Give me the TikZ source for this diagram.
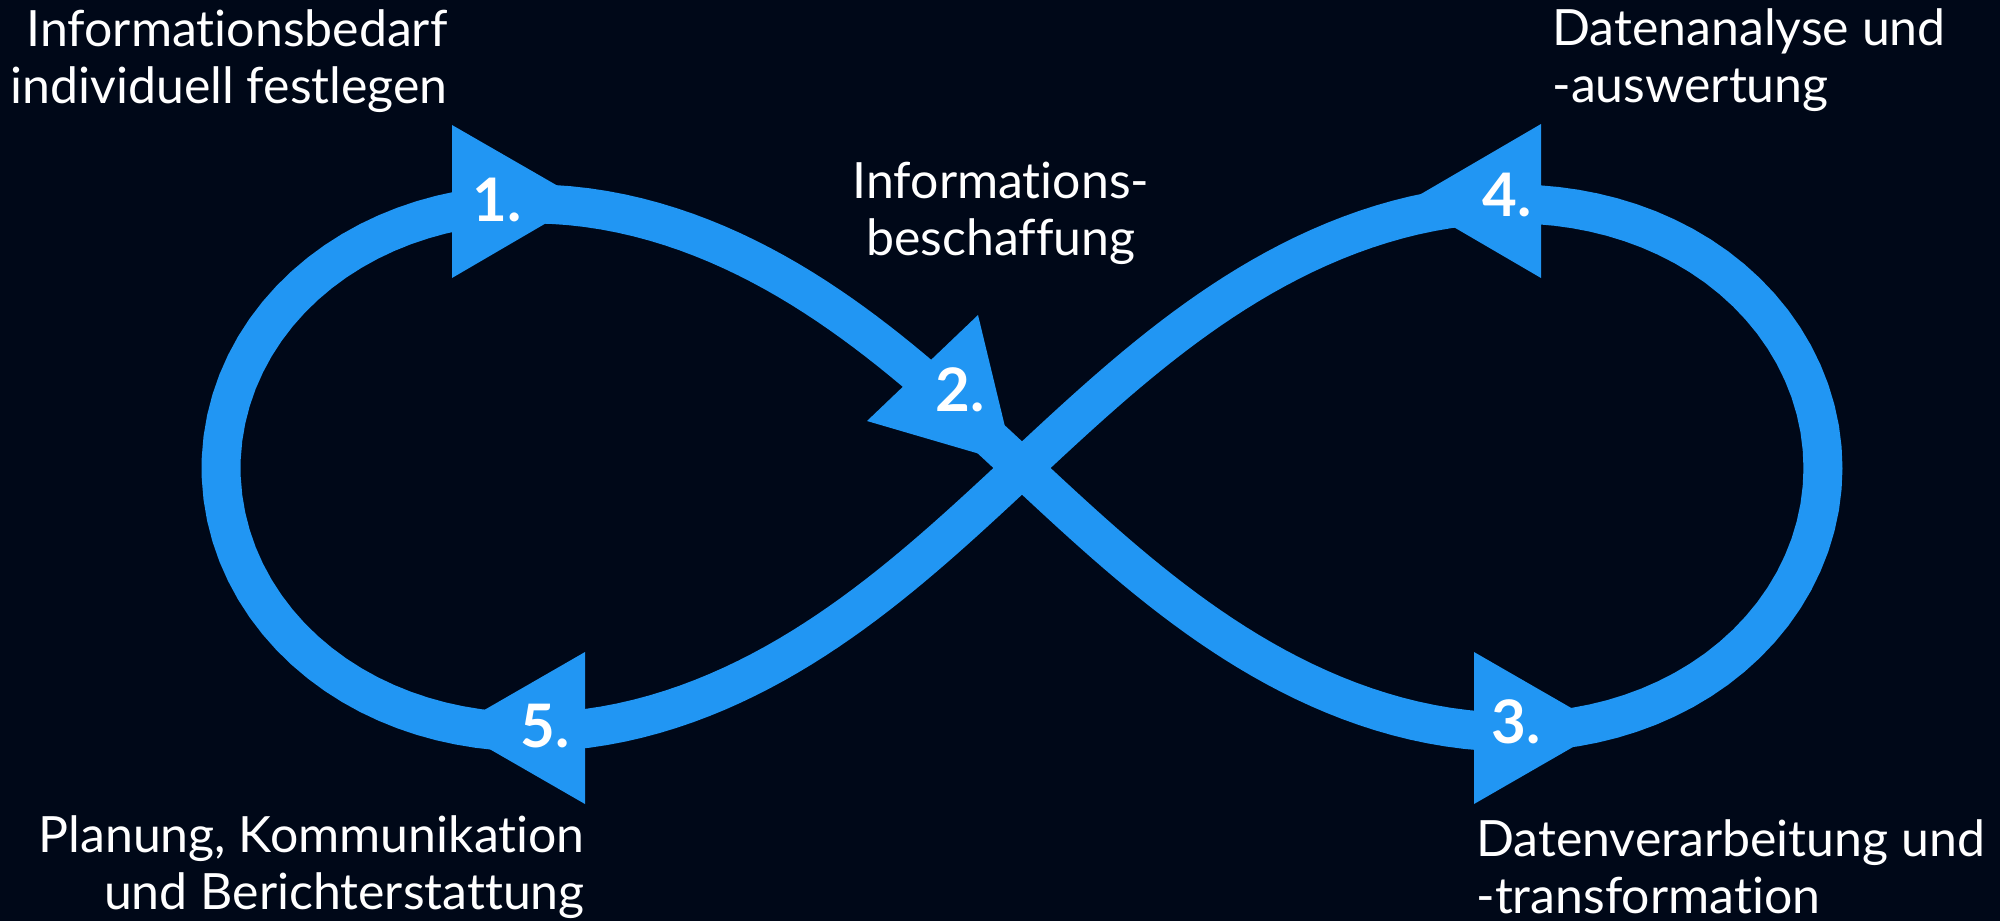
\documentclass[tikz,border=0pt]{standalone}
\usepackage{fontspec}
\setmainfont{Lato}[Ligatures={NoCommon}]
\definecolor{bg}{HTML}{000818}
\definecolor{loopblue}{HTML}{2196F3}
\begin{document}
\begin{tikzpicture}[x=0.5pt,y=-0.5pt,
  curve/.style={draw=loopblue,line width=19.5pt,line join=round},
  tri/.style={fill=loopblue},
  numlabel/.style={text=white,font=\fontsize{30}{30}\selectfont\bfseries,inner sep=0pt},
  steplabel/.style={text=white,font=\fontsize{25}{28.5}\selectfont,inner sep=0pt}]
\useasboundingbox (0,0) rectangle (2000,921);
\fill[bg] (0,0) rectangle (2000,921);
% figure eight
\draw[curve] plot[domain=0:360,samples=240,variable=\t]
  ({1022+801*cos(\t)/(1+sin(\t)*sin(\t))},{468+747*sin(\t)*cos(\t)/(1+sin(\t)*sin(\t))}) -- cycle;
% arrow triangles
\fill[tri] (452,125) -- (584,201) -- (452,278) -- cycle;
\fill[tri] (978,315) -- (1014,464) -- (867,421) -- cycle;
\fill[tri] (1474,652) -- (1606,728) -- (1474,804) -- cycle;
\fill[tri] (1541,124) -- (1409,201) -- (1541,278) -- cycle;
\fill[tri] (585,652) -- (453,728) -- (585,804) -- cycle;
% numbers
\node[numlabel] (num1) at (497,200) {1.};
\node[numlabel] (num2) at (960,390) {2.};
\node[numlabel] (num3) at (1516,722) {3.};
\node[numlabel] (num4) at (1507,195) {4.};
\node[numlabel] (num5) at (545,726) {5.};
% labels (base anchor = baseline of last line)
\node[steplabel,anchor=base east,align=right] (lab1) at (448,103) {Informationsbedarf\\individuell festlegen};
\node[steplabel,anchor=base,align=center] (lab2) at (1001,255) {Informations-\\beschaffung};
\node[steplabel,anchor=base west,align=left] (lab4) at (1552,102) {Datenanalyse und\\-auswertung};
\node[steplabel,anchor=base east,align=right] (lab5) at (585,909) {Planung, Kommunikation\\und Berichterstattung};
\node[steplabel,anchor=base west,align=left] (lab3) at (1476,913) {Datenverarbeitung und\\-transformation};
\end{tikzpicture}
\end{document}
